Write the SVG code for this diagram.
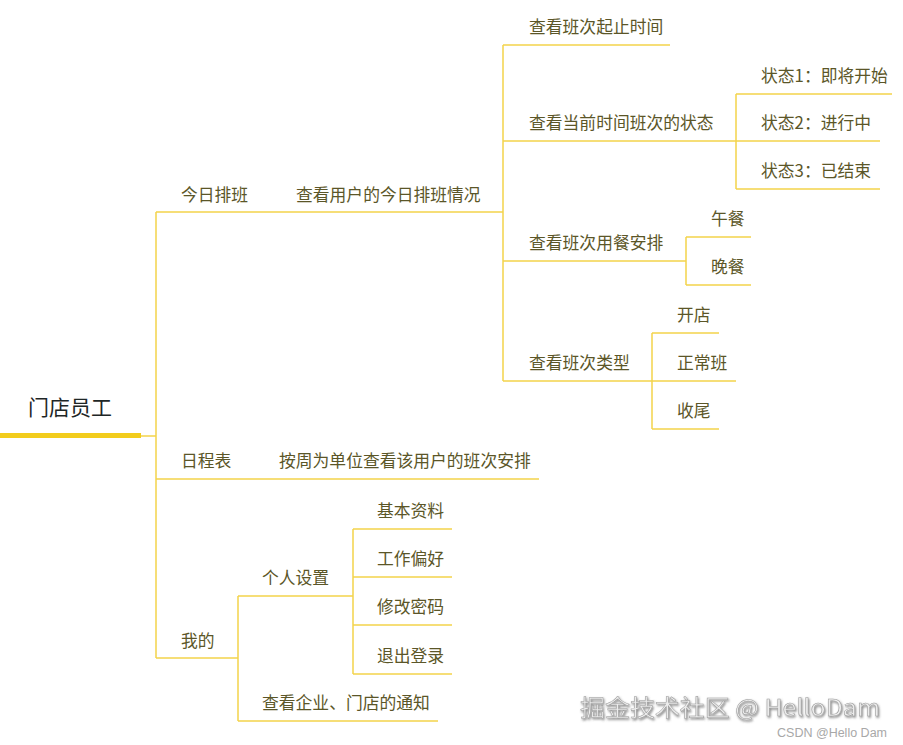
<svg xmlns="http://www.w3.org/2000/svg" width="903" height="745" viewBox="0 0 903 745">
<defs>
<style>
.t{font-family:"Noto Sans CJK SC","Liberation Sans",sans-serif;font-size:16.8px;fill:#5b5628}
.r{font-family:"Noto Sans CJK SC","Liberation Sans",sans-serif;font-size:21px;fill:#1e2626}
.c{fill:none;stroke:#f3d34a;stroke-width:1.5}
.wm{font-family:"Noto Sans CJK SC","Liberation Sans",sans-serif;fill:#ececec;stroke:#9a9a9a;stroke-width:0.5}
</style>
<filter id="sh" x="-5%" y="-20%" width="110%" height="150%">
<feDropShadow dx="1" dy="1.5" stdDeviation="0.8" flood-color="#555" flood-opacity="0.7"/>
</filter>
</defs>
<rect width="903" height="745" fill="#ffffff"/>
<g id="connectors">
<path d="M0 435.5H141" stroke="#f2cc1c" stroke-width="5" fill="none"/>
<path class="c" d="M141 436H156"/>
<path class="c" d="M156 212V658"/>
<path class="c" d="M156 212H503"/>
<path class="c" d="M503 45V381"/>
<path class="c" d="M503 45H670"/>
<path class="c" d="M503 141H736"/>
<path class="c" d="M736 94V189"/>
<path class="c" d="M736 94H892"/>
<path class="c" d="M736 141H880"/>
<path class="c" d="M736 189H880"/>
<path class="c" d="M503 261H686"/>
<path class="c" d="M686 237V285"/>
<path class="c" d="M686 237H751"/>
<path class="c" d="M686 285H751"/>
<path class="c" d="M503 381H652"/>
<path class="c" d="M652 333V429"/>
<path class="c" d="M652 333H719"/>
<path class="c" d="M652 381H736"/>
<path class="c" d="M652 429H719"/>
<path class="c" d="M156 479H539"/>
<path class="c" d="M156 658H238"/>
<path class="c" d="M238 596V721"/>
<path class="c" d="M238 596H353"/>
<path class="c" d="M353 529V674"/>
<path class="c" d="M353 529H452"/>
<path class="c" d="M353 577H452"/>
<path class="c" d="M353 625H452"/>
<path class="c" d="M353 674H452"/>
<path class="c" d="M238 721H438"/>
</g>
<g id="root"><text class="r" x="28" y="415">门店员工</text></g>
<g id="n-jrpb"><text class="t" x="181" y="201">今日排班</text></g>
<g id="n-ckyh"><text class="t" x="296" y="201">查看用户的今日排班情况</text></g>
<g id="n-qzsj"><text class="t" x="529" y="33">查看班次起止时间</text></g>
<g id="n-dqzt"><text class="t" x="529" y="129">查看当前时间班次的状态</text></g>
<g id="n-zt1"><text class="t" x="761" y="82">状态1：即将开始</text></g>
<g id="n-zt2"><text class="t" x="761" y="129">状态2：进行中</text></g>
<g id="n-zt3"><text class="t" x="761" y="177">状态3：已结束</text></g>
<g id="n-ycap"><text class="t" x="529" y="249">查看班次用餐安排</text></g>
<g id="n-wuc"><text class="t" x="711" y="225">午餐</text></g>
<g id="n-wanc"><text class="t" x="711" y="273">晚餐</text></g>
<g id="n-bclx"><text class="t" x="529" y="369">查看班次类型</text></g>
<g id="n-kd"><text class="t" x="677" y="321">开店</text></g>
<g id="n-zcb"><text class="t" x="677" y="369">正常班</text></g>
<g id="n-sw"><text class="t" x="677" y="417">收尾</text></g>
<g id="n-rcb"><text class="t" x="181" y="467">日程表</text></g>
<g id="n-azw"><text class="t" x="279" y="467">按周为单位查看该用户的班次安排</text></g>
<g id="n-wd"><text class="t" x="181" y="647">我的</text></g>
<g id="n-grsz"><text class="t" x="262" y="584">个人设置</text></g>
<g id="n-jbzl"><text class="t" x="377" y="517">基本资料</text></g>
<g id="n-gzph"><text class="t" x="377" y="565">工作偏好</text></g>
<g id="n-xgmm"><text class="t" x="377" y="613">修改密码</text></g>
<g id="n-tcdl"><text class="t" x="377" y="662">退出登录</text></g>
<g id="n-tz"><text class="t" x="262" y="709">查看企业、门店的通知</text></g>
<g id="watermark">
<text class="wm" x="580" y="716" font-size="23" textLength="300" lengthAdjust="spacingAndGlyphs" filter="url(#sh)">掘金技术社区 @ HelloDam</text>
<text x="887" y="737" text-anchor="end" font-family="Liberation Sans, sans-serif" font-size="12.5" fill="#a8a8a8">CSDN @Hello Dam</text>
</g>
</svg>
